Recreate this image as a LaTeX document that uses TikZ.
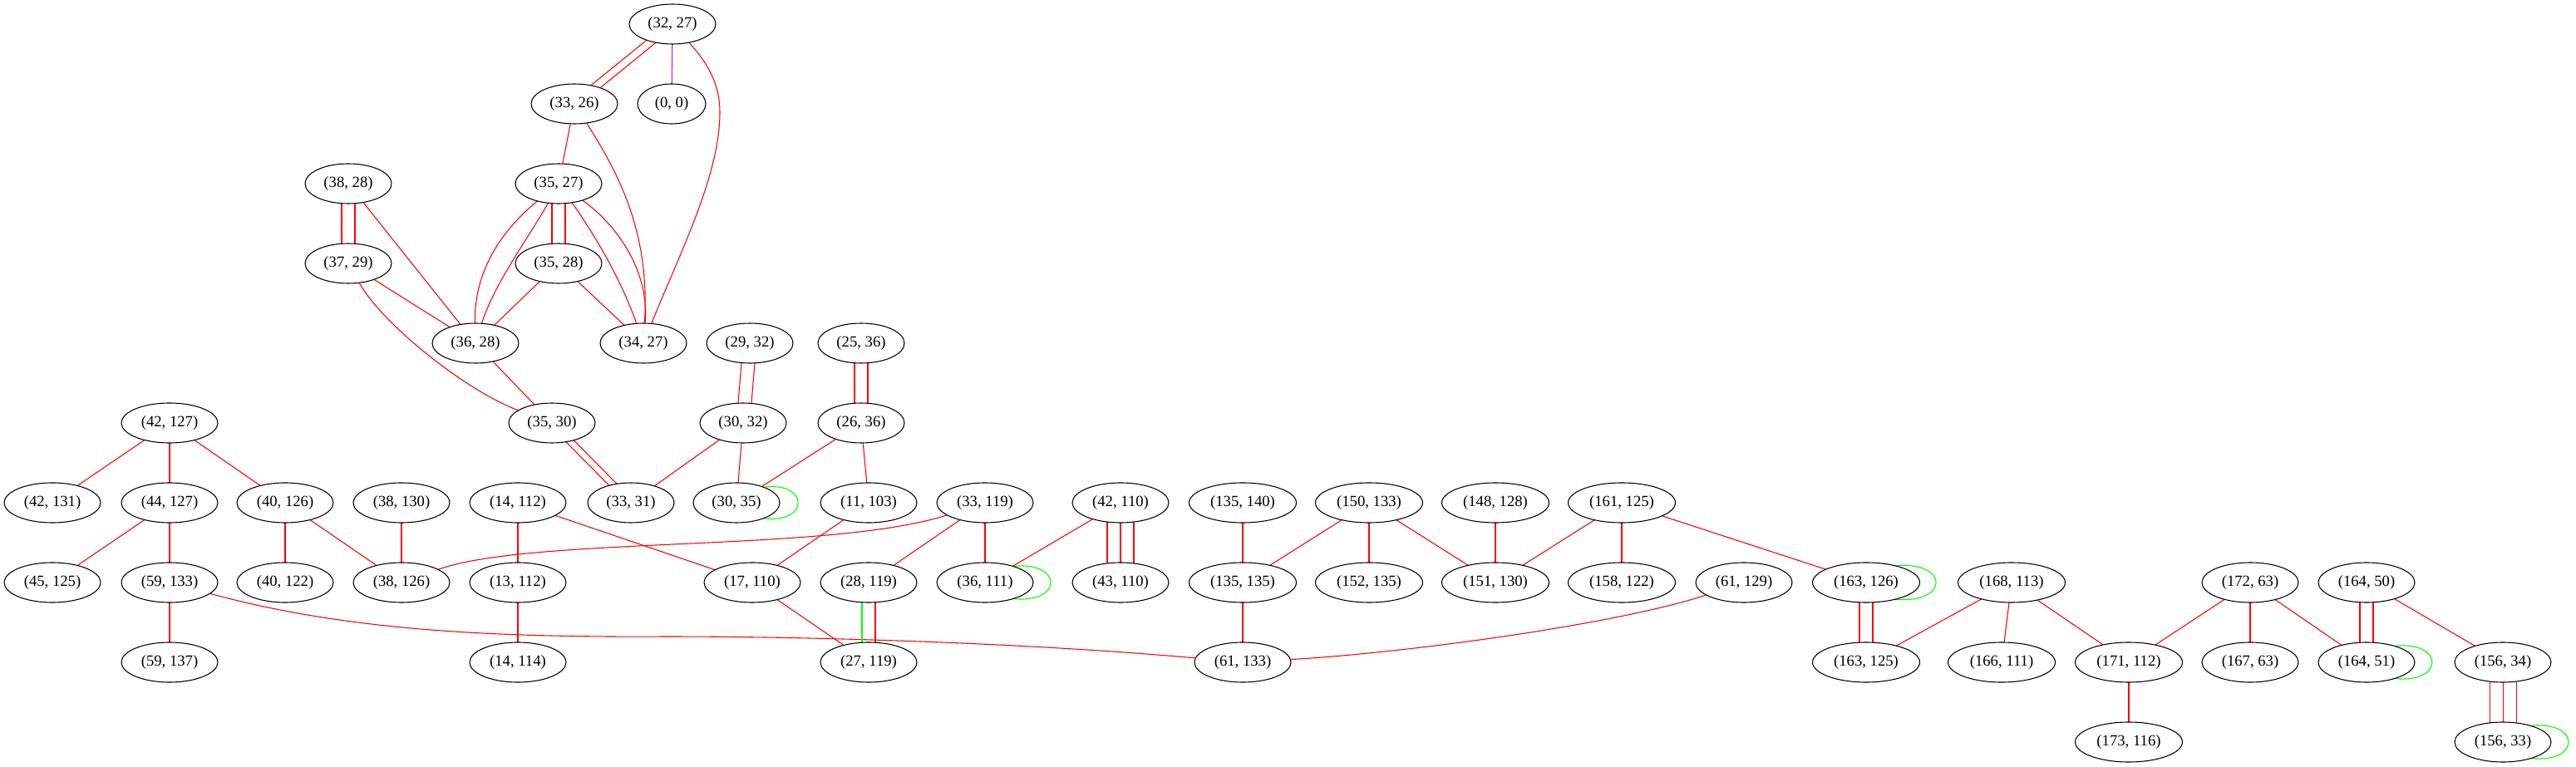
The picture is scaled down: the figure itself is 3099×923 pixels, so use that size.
\documentclass[tikz,border=0pt]{standalone}
\usepackage{fontspec}
\setmainfont{Liberation Serif}
\usetikzlibrary{shapes.geometric,calc,backgrounds}
\definecolor{gvred}{RGB}{255,0,0}
\definecolor{gvgreen}{RGB}{0,255,0}
\definecolor{gvpurple}{RGB}{160,32,240}
\begin{document}
\begin{tikzpicture}[x=0.75pt,y=-0.75pt,
  gv/.style={ellipse,draw=black,line width=0.8pt,fill=white,inner sep=0pt,outer sep=0pt,
    minimum height=36pt,font=\fontsize{14pt}{16pt}\selectfont},
  dtwo/.style={gv,minimum width=61.5pt},
  dfour/.style={gv,minimum width=78pt},
  dfive/.style={gv,minimum width=87pt},
  dsix/.style={gv,minimum width=96.75pt},
  re/.style={draw=gvred,line width=0.8pt},
  gr/.style={draw=gvgreen,line width=0.8pt},
  pu/.style={draw=gvpurple,line width=0.8pt}]
\useasboundingbox (0,0) rectangle (3099,923);
% row 1-5
\node[dfour] (n32x27) at (809,29) {(32, 27)};
\node[dfour] (n33x26) at (691,125) {(33, 26)};
\node[dtwo] (n0x0) at (808,125) {(0, 0)};
\node[dfour] (n38x28) at (419,221) {(38, 28)};
\node[dfour] (n35x27) at (672,221) {(35, 27)};
\node[dfour] (n37x29) at (419,317) {(37, 29)};
\node[dfour] (n35x28) at (672,317) {(35, 28)};
\node[dfour] (n36x28) at (572,413) {(36, 28)};
\node[dfour] (n34x27) at (774,413) {(34, 27)};
\node[dfour] (n29x32) at (902,413) {(29, 32)};
\node[dfour] (n25x36) at (1036,413) {(25, 36)};
% row 6
\node[dfive] (n42x127) at (204,509) {(42, 127)};
\node[dfour] (n35x30) at (664,509) {(35, 30)};
\node[dfour] (n30x32) at (894,509) {(30, 32)};
\node[dfour] (n26x36) at (1036,509) {(26, 36)};
% row 7
\node[dfive] (n42x131) at (63,605) {(42, 131)};
\node[dfive] (n44x127) at (204,605) {(44, 127)};
\node[dfive] (n40x126) at (343,605) {(40, 126)};
\node[dfive] (n38x130) at (483,605) {(38, 130)};
\node[dfive] (n14x112) at (623,605) {(14, 112)};
\node[dfour] (n33x31) at (759,605) {(33, 31)};
\node[dfour] (n30x35) at (886,605) {(30, 35)};
\node[dfive] (n11x103) at (1045,605) {(11, 103)};
\node[dfive] (n33x119) at (1185,605) {(33, 119)};
\node[dfive] (n42x110) at (1348,605) {(42, 110)};
\node[dsix] (n135x140) at (1495,605) {(135, 140)};
\node[dsix] (n150x133) at (1647,605) {(150, 133)};
\node[dsix] (n148x128) at (1799,605) {(148, 128)};
\node[dsix] (n161x125) at (1951,605) {(161, 125)};
% row 8
\node[dfive] (n45x125) at (63,701) {(45, 125)};
\node[dfive] (n59x133) at (204,701) {(59, 133)};
\node[dfive] (n40x122) at (343,701) {(40, 122)};
\node[dfive] (n38x126) at (483,701) {(38, 126)};
\node[dfive] (n13x112) at (623,701) {(13, 112)};
\node[dfive] (n17x110) at (905,701) {(17, 110)};
\node[dfive] (n28x119) at (1045,701) {(28, 119)};
\node[dfive] (n36x111) at (1185,701) {(36, 111)};
\node[dfive] (n43x110) at (1348,701) {(43, 110)};
\node[dsix] (n135x135) at (1495,701) {(135, 135)};
\node[dsix] (n152x135) at (1647,701) {(152, 135)};
\node[dsix] (n151x130) at (1799,701) {(151, 130)};
\node[dsix] (n158x122) at (1951,701) {(158, 122)};
\node[dfive] (n61x129) at (2098,701) {(61, 129)};
\node[dsix] (n163x126) at (2245,701) {(163, 126)};
\node[dsix] (n168x113) at (2420,701) {(168, 113)};
\node[dfive] (n172x63) at (2707,701) {(172, 63)};
\node[dfive] (n164x50) at (2847,701) {(164, 50)};
% row 9
\node[dfive] (n59x137) at (204,797) {(59, 137)};
\node[dfive] (n14x114) at (623,797) {(14, 114)};
\node[dfive] (n27x119) at (1045,797) {(27, 119)};
\node[dfive] (n61x133) at (1495,797) {(61, 133)};
\node[dsix] (n163x125) at (2245,797) {(163, 125)};
\node[dsix] (n166x111) at (2408,797) {(166, 111)};
\node[dsix] (n171x112) at (2561,797) {(171, 112)};
\node[dfive] (n167x63) at (2707,797) {(167, 63)};
\node[dfive] (n164x51) at (2847,797) {(164, 51)};
\node[dfive] (n156x34) at (3011,797) {(156, 34)};
% row 10
\node[dsix] (n173x116) at (2561,893) {(173, 116)};
\node[dfive] (n156x33) at (3011,893) {(156, 33)};

\begin{pgfonlayer}{background}
\fill[white] (0,0) rectangle (3099,923);
% top cluster
\draw[re] ($(n32x27)!3.5pt!90:(n33x26)$) -- ($(n33x26)!3.5pt!-90:(n32x27)$);
\draw[re] ($(n32x27)!3.5pt!-90:(n33x26)$) -- ($(n33x26)!3.5pt!90:(n32x27)$);
\draw[pu] (n32x27) -- (n0x0);
\draw[re] (n32x27) .. controls (855,80) and (866,105) .. (866,135) .. controls (866,210) and (820,300) .. (n34x27);
\draw[re] (n33x26) -- (n35x27);
\draw[re] (n33x26) .. controls (745,210) and (782,280) .. (n34x27);
\draw[re] ($(n38x28)+(-8,0)$) -- ($(n37x29)+(-8,0)$);
\draw[re] ($(n38x28)+(8,0)$) -- ($(n37x29)+(8,0)$);
\draw[re] (n38x28) -- (n36x28);
\draw[re] (n35x27) .. controls (600,280) and (570,330) .. (n36x28);
\draw[re] (n35x27) .. controls (640,280) and (595,340) .. (n36x28);
\draw[re] ($(n35x27)+(-8,0)$) -- ($(n35x28)+(-8,0)$);
\draw[re] ($(n35x27)+(8,0)$) -- ($(n35x28)+(8,0)$);
\draw[re] (n35x27) .. controls (710,275) and (745,330) .. (n34x27);
\draw[re] (n35x27) .. controls (735,265) and (782,320) .. (n34x27);
\draw[re] (n37x29) -- (n36x28);
\draw[re] (n37x29) .. controls (460,390) and (560,470) .. (n35x30);
\draw[re] (n35x28) -- (n36x28);
\draw[re] (n35x28) -- (n34x27);
\draw[re] (n36x28) -- (n35x30);
\draw[re] ($(n29x32)+(-8,0)$) -- ($(n30x32)+(-8,0)$);
\draw[re] ($(n29x32)+(8,0)$) -- ($(n30x32)+(8,0)$);
\draw[re] ($(n25x36)+(-8,0)$) -- ($(n26x36)+(-8,0)$);
\draw[re] ($(n25x36)+(8,0)$) -- ($(n26x36)+(8,0)$);
\draw[re] ($(n35x30)!3pt!90:(n33x31)$) -- ($(n33x31)!3pt!-90:(n35x30)$);
\draw[re] ($(n35x30)!3pt!-90:(n33x31)$) -- ($(n33x31)!3pt!90:(n35x30)$);
\draw[re] (n30x32) -- (n33x31);
\draw[re] (n30x32) -- (n30x35);
\draw[re] (n26x36) -- (n30x35);
\draw[re] (n26x36) -- (n11x103);
\draw[gr] (n30x35.30) .. controls ($(n30x35.east)+(36,-26)$) and ($(n30x35.east)+(36,26)$) .. (n30x35.-30);
% left cluster
\draw[re] (n42x127) -- (n42x131);
\draw[re] (n42x127) -- (n44x127);
\draw[re] (n42x127) -- (n40x126);
\draw[re] (n44x127) -- (n45x125);
\draw[re] (n44x127) -- (n59x133);
\draw[re] (n40x126) -- (n40x122);
\draw[re] (n40x126) -- (n38x126);
\draw[re] (n38x130) -- (n38x126);
\draw[re] (n14x112) -- (n13x112);
\draw[re] (n14x112) -- (n17x110);
\draw[re] (n13x112) -- (n14x114);
\draw[re] (n59x133) -- (n59x137);
\draw[re] (n59x133) .. controls (420,760) and (600,767) .. (800,766) .. controls (1000,766) and (1250,775) .. (n61x133);
\draw[re] (n38x126) .. controls (640,645) and (1000,665) .. (n33x119);
% middle
\draw[re] (n11x103) -- (n17x110);
\draw[re] (n33x119) -- (n28x119);
\draw[re] (n33x119) -- (n36x111);
\draw[re] (n42x110) -- (n36x111);
\draw[re] ($(n42x110)+(-16,0)$) -- ($(n43x110)+(-16,0)$);
\draw[re] (n42x110) -- (n43x110);
\draw[re] ($(n42x110)+(16,0)$) -- ($(n43x110)+(16,0)$);
\draw[gr] (n36x111.30) .. controls ($(n36x111.east)+(36,-26)$) and ($(n36x111.east)+(36,26)$) .. (n36x111.-30);
\draw[re] (n17x110) -- (n27x119);
\draw[gr] ($(n28x119)+(-8,0)$) -- ($(n27x119)+(-8,0)$);
\draw[re] ($(n28x119)+(8,0)$) -- ($(n27x119)+(8,0)$);
\draw[re] (n135x140) -- (n135x135);
\draw[re] (n135x135) -- (n61x133);
\draw[re] (n150x133) -- (n135x135);
\draw[re] (n150x133) -- (n152x135);
\draw[re] (n150x133) -- (n151x130);
\draw[re] (n148x128) -- (n151x130);
\draw[re] (n161x125) -- (n151x130);
\draw[re] (n161x125) -- (n158x122);
\draw[re] (n161x125) -- (n163x126);
\draw[re] (n61x129) .. controls (1950,750) and (1700,785) .. (n61x133);
% right cluster
\draw[gr] (n163x126.30) .. controls ($(n163x126.east)+(36,-26)$) and ($(n163x126.east)+(36,26)$) .. (n163x126.-30);
\draw[re] ($(n163x126)+(-8,0)$) -- ($(n163x125)+(-8,0)$);
\draw[re] ($(n163x126)+(8,0)$) -- ($(n163x125)+(8,0)$);
\draw[re] (n168x113) -- (n163x125);
\draw[re] (n168x113) -- (n166x111);
\draw[re] (n168x113) -- (n171x112);
\draw[re] (n172x63) -- (n171x112);
\draw[re] (n172x63) -- (n167x63);
\draw[re] (n172x63) -- (n164x51);
\draw[re] ($(n164x50)+(-8,0)$) -- ($(n164x51)+(-8,0)$);
\draw[re] ($(n164x50)+(8,0)$) -- ($(n164x51)+(8,0)$);
\draw[re] (n164x50) -- (n156x34);
\draw[gr] (n164x51.30) .. controls ($(n164x51.east)+(36,-26)$) and ($(n164x51.east)+(36,26)$) .. (n164x51.-30);
\draw[re] (n171x112) -- (n173x116);
\draw[re] ($(n156x34)+(-16,0)$) -- ($(n156x33)+(-16,0)$);
\draw[re] (n156x34) -- (n156x33);
\draw[re] ($(n156x34)+(16,0)$) -- ($(n156x33)+(16,0)$);
\draw[gr] (n156x33.30) .. controls ($(n156x33.east)+(36,-26)$) and ($(n156x33.east)+(36,26)$) .. (n156x33.-30);
\end{pgfonlayer}
\end{tikzpicture}
\end{document}
